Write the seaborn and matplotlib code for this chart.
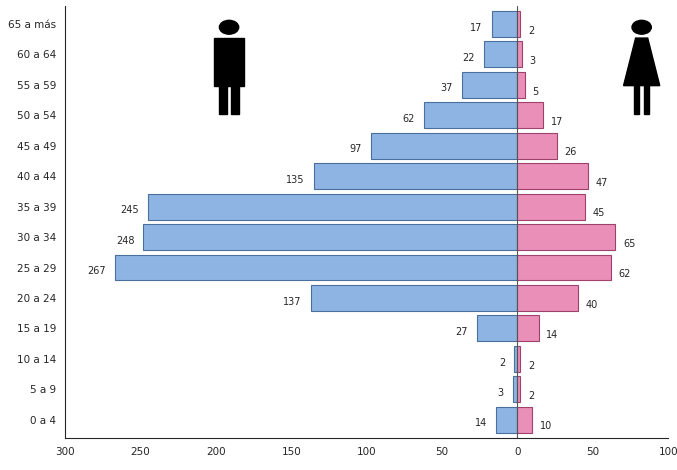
import matplotlib
matplotlib.use("Agg")
import matplotlib.pyplot as plt
import seaborn as sns
import pandas as pd
from matplotlib.patches import Circle, Rectangle, Polygon

ages = ["65 a más","60 a 64","55 a 59","50 a 54","45 a 49","40 a 44","35 a 39",
        "30 a 34","25 a 29","20 a 24","15 a 19","10 a 14","5 a 9","0 a 4"]
men = [17,22,37,62,97,135,245,248,267,137,27,2,3,14]
women = [2,3,5,17,26,47,45,65,62,40,14,2,2,10]

df = pd.DataFrame({"age": ages, "men": [-m for m in men], "women": women})

sns.set_style("white")
fig = plt.figure(figsize=(6.77, 4.7), dpi=100)
ax = fig.add_axes([0.096, 0.068, 0.891, 0.92])
sns.barplot(data=df, y="age", x="men", orient="h", color="#8db4e2", edgecolor="#4a6f9c",
            linewidth=0.8, width=0.85, saturation=1, ax=ax)
sns.barplot(data=df, y="age", x="women", orient="h", color="#e98fb8", edgecolor="#a0406c",
            linewidth=0.8, width=0.85, saturation=1, ax=ax)
ax.set_xlim(-300, 100)
ax.set_ylim(13.6, -0.6)
ax.set_xticks(range(-300, 101, 50))
ax.set_xticklabels([str(abs(v)) for v in range(-300, 101, 50)], fontsize=7.5)
ax.tick_params(axis="y", labelsize=7.5, length=3)
ax.tick_params(axis="x", length=3)
ax.set_xlabel(""); ax.set_ylabel("")
for s in ["top", "right"]:
    ax.spines[s].set_visible(False)
ax.axvline(0, color="#555555", lw=0.8)
for i, (m, w) in enumerate(zip(men, women)):
    ax.text(-m - 6, i + 0.12, str(m), ha="right", va="center", fontsize=7)
    ax.text(w + 5, i + 0.22, str(w), ha="left", va="center", fontsize=7)

# simple person icons (axes coords)
def man(cx, top):
    ax.add_patch(Circle((cx, top - 0.025), 0.016, transform=ax.transAxes, color="black"))
    ax.add_patch(Rectangle((cx - 0.025, top - 0.16), 0.05, 0.11, transform=ax.transAxes, color="black"))
    ax.add_patch(Rectangle((cx - 0.016, top - 0.225), 0.013, 0.07, transform=ax.transAxes, color="black"))
    ax.add_patch(Rectangle((cx + 0.003, top - 0.225), 0.013, 0.07, transform=ax.transAxes, color="black"))
def woman(cx, top):
    ax.add_patch(Circle((cx, top - 0.025), 0.016, transform=ax.transAxes, color="black"))
    ax.add_patch(Polygon([(cx - 0.01, top - 0.05), (cx + 0.01, top - 0.05), (cx + 0.03, top - 0.16), (cx - 0.03, top - 0.16)],
                         transform=ax.transAxes, color="black"))
    ax.add_patch(Rectangle((cx - 0.012, top - 0.225), 0.008, 0.07, transform=ax.transAxes, color="black"))
    ax.add_patch(Rectangle((cx + 0.004, top - 0.225), 0.008, 0.07, transform=ax.transAxes, color="black"))
man(0.272, 0.975)
woman(0.956, 0.975)

fig.savefig("out.png", dpi=100)
